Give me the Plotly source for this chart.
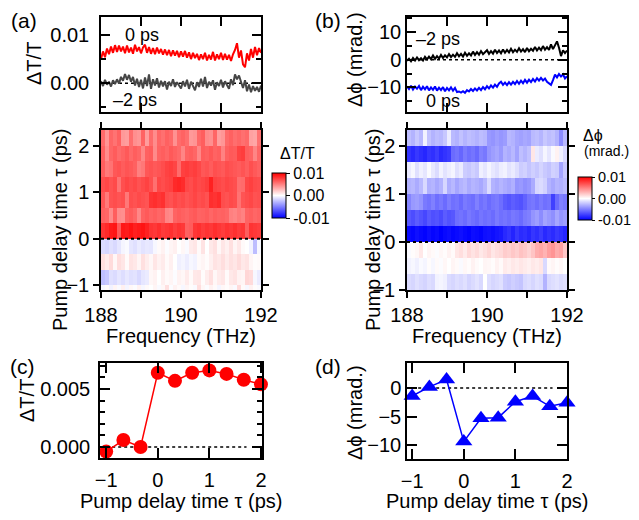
import numpy as np
import plotly.graph_objects as go

W, H = 639, 520
# the page body keeps an 8 px margin all round, so the figure sits 8 px in and is 16 px smaller
OFF = 8
FW, FH = W - 2 * OFF, H - 2 * OFF
FONT = "Liberation Sans, Arial, sans-serif"

# ---- top panels: spectra at fixed delay (ΔT/T in 1e-3, Δϕ in mrad)
freq_line = np.linspace(188, 192, 81)
dtt_0ps = [5.0, 6.6, 5.4, 7.2, 6.0, 7.6, 6.3, 7.9, 6.5, 7.8, 6.6, 7.6, 6.2, 7.8, 6.4, 7.4, 6.1, 8.0, 6.6, 7.5,
           6.2, 7.4, 8.0, 6.3, 7.5, 6.1, 7.3, 6.0, 7.4, 6.2, 7.1, 5.9, 7.0, 5.8, 6.9, 5.6, 6.8, 5.7, 6.7, 5.4,
           6.6, 5.5, 6.7, 5.3, 6.4, 5.0, 6.3, 5.2, 6.1, 4.8, 6.0, 5.0, 6.3, 4.7, 5.9, 4.9, 6.5, 4.7, 6.0, 5.0,
           6.3, 4.8, 6.1, 4.9, 5.9, 4.6, 6.0, 6.9, 8.3, 5.3, 6.8, 3.9, 3.3, 6.2, 4.7, 7.1, 5.3, 7.5, 5.8, 7.3, 6.3]
dtt_m2ps = [0.4, -0.6, 0.7, -0.3, 0.3, -0.7, 0.6, -0.2, 0.8, -0.1, 1.3, 0.5, 1.9, 0.7, 1.7, 0.3, 1.3, -0.5, 0.9, -0.8,
            0.7, -1.1, 1.2, -0.6, 1.8, -1.2, 0.8, -0.5, 1.0, -0.9, 0.5, -0.7, 0.4, -1.3, 0.3, -0.6, 0.8, -0.8, 0.2, -0.5,
            -1.1, 0.4, -0.7, 0.7, -1.2, 0.3, -0.6, -1.5, 0.2, -0.8, 0.9, -0.7, 1.3, -1.0, 0.3, -0.5, 0.6, -1.4, 0.2, -0.6,
            0.7, -0.9, 0.4, -0.3, -1.2, 0.8, -0.4, 1.8, 0.8, 1.6, 0.1, -1.0, 0.6, -1.7, -0.3, -1.9, -0.6, -1.6, -0.8, -1.8, -0.5]
dphi_m2ps = [-0.4, 0.3, -0.6, 0.6, -0.3, 0.8, -0.2, 0.5, -0.3, 1.0, 0.1, 1.1, 0.2, 1.5, 0.3, 1.3, 0.4, 1.7, 0.6, 1.6,
             0.8, 2.0, 0.9, 1.8, 1.0, 2.3, 1.2, 2.1, 1.1, 2.5, 1.4, 2.3, 1.5, 2.9, 1.7, 2.7, 1.8, 3.1, 2.0, 2.8,
             3.4, 2.1, 3.1, 2.2, 3.6, 2.4, 3.3, 2.3, 3.7, 2.5, 3.5, 2.6, 3.9, 2.7, 3.6, 2.8, 4.1, 2.9, 3.8, 2.7,
             4.2, 3.0, 3.9, 3.2, 4.6, 3.3, 4.3, 3.4, 4.9, 3.6, 4.5, 3.5, 5.5, 3.8, 5.3, 6.6, 4.3, 1.3, 3.4, 2.4, 3.3]
dphi_0ps = [-9.6, -10.6, -9.4, -10.8, -9.7, -10.5, -9.5, -11.0, -9.8, -10.7, -9.6, -11.1, -10.0, -10.9, -9.7, -11.2,
            -10.1, -11.0, -9.9, -11.4, -10.2, -11.1, -10.0, -11.2, -10.2, -11.7, -11.5, -11.9, -11.4, -12.0, -11.0,
            -11.5, -10.6, -11.3, -10.4, -11.1, -10.2, -11.0, -9.9, -10.7, -9.6, -10.4, -9.3, -10.1, -9.0, -9.8, -8.6,
            -8.0, -9.1, -8.3, -9.2, -8.1, -9.0, -8.0, -8.8, -7.7, -8.7, -7.6, -8.5, -7.3, -8.3, -7.2, -8.1, -7.0,
            -7.9, -6.7, -7.6, -6.6, -7.5, -6.8, -8.0, -8.6, -9.1, -7.4, -5.4, -6.4, -5.2, -6.1, -5.3, -6.8, -6.0]

# ---- maps (rows from lowest delay upward, values in 1e-4)
freq_edges = np.linspace(188, 192, 41)
tau_edges_a = [-4/3, -1, -2/3, -1/3, 0, 1/3, 2/3, 1, 4/3, 5/3, 2, 7/3]
tau_edges_b = [-1, -2/3, -1/3, 0, 1/3, 2/3, 1, 4/3, 5/3, 2, 7/3]
dtt_map = [
    [-3, 2, -5, 4, -2, 6, -4, 3, -1, 5, -3, 2, 0, 4, -2, 3, 12, -1, 5, 2, -3, 4, 1, -2, 13, 3, -1, 5, 2, -4, 3, 1, 4, -2, 14, 2, -3, 5, 1, -2],
    [-25, -22, -12, -14, -10, -13, -9, -12, -11, -15, -10, -8, 3, 5, 0, 6, 2, 4, -1, 5, 3, 8, 2, 9, 10, 1, 7, 12, 3, 8, 10, 2, 9, 11, 5, 4, 16, 14, -3, -8],
    [12, 8, 14, 3, 13, 10, 2, 11, 9, 4, 12, 7, 3, 10, 5, 8, 2, 6, 0, -6, -4, -7, -3, -5, 2, 4, 1, 6, 11, 9, 13, 8, 12, 10, 14, 9, 11, 4, 1, 2],
    [-14, -16, -12, -15, -10, -4, -2, -10, -12, -8, -11, -9, -10, -3, 2, 5, -1, 4, 6, 0, 3, -2, 8, 10, 2, 11, 0, 9, 12, 3, 10, 6, 12, 4, 9, 2, 0, -5, -26, -3],
    [80, 84, 90, 92, 66, 91, 89, 93, 88, 90, 92, 87, 80, 78, 82, 77, 79, 81, 76, 80, 78, 62, 64, 79, 81, 77, 80, 78, 82, 79, 76, 80, 78, 81, 77, 79, 63, 80, 78, 76],
    [62, 60, 46, 63, 45, 44, 61, 64, 60, 47, 62, 65, 61, 63, 60, 62, 48, 46, 61, 64, 62, 60, 63, 65, 61, 62, 64, 60, 63, 61, 62, 60, 50, 48, 52, 49, 61, 63, 60, 62],
    [66, 52, 68, 70, 67, 69, 53, 70, 68, 71, 69, 67, 80, 82, 79, 81, 70, 68, 72, 69, 71, 67, 70, 73, 69, 71, 68, 82, 80, 83, 70, 68, 71, 69, 55, 67, 70, 72, 68, 69],
    [70, 72, 68, 71, 55, 69, 73, 70, 72, 68, 71, 74, 69, 56, 72, 70, 73, 75, 84, 86, 83, 72, 70, 74, 71, 73, 76, 87, 74, 72, 70, 73, 71, 69, 57, 58, 72, 75, 71, 70],
    [63, 52, 55, 66, 68, 64, 67, 65, 62, 50, 53, 66, 68, 65, 67, 70, 74, 76, 73, 58, 75, 77, 74, 76, 72, 66, 68, 64, 69, 67, 65, 70, 68, 66, 64, 67, 63, 69, 65, 62],
    [62, 45, 60, 64, 58, 61, 65, 59, 63, 60, 47, 62, 64, 46, 61, 63, 60, 65, 62, 59, 48, 61, 63, 60, 47, 64, 62, 66, 61, 63, 49, 62, 65, 64, 74, 76, 63, 61, 48, 60],
    [58, 42, 60, 55, 62, 40, 38, 57, 44, 41, 61, 39, 58, 45, 60, 56, 62, 59, 43, 58, 61, 57, 40, 42, 59, 63, 46, 44, 60, 38, 41, 58, 62, 57, 60, 56, 59, 37, 35, 55],
]
dphi_map = [
    [-14, -16, -12, -15, -17, -13, -15, -5, -4, -6, -14, -16, -13, -15, -12, -17, -14, -11, -15, 0, -13, -16, -14, -12, -20, -22, -19, -21, -23, -15, -13, -16, -12, -14, -30, -15, -13, -11, -14, -12],
    [-5, -3, -6, -2, -4, 1, -3, 2, -1, 3, 0, 4, 2, -2, 3, 1, 5, 2, 0, 4, 3, 1, 5, 2, 8, 6, 9, 7, 10, 8, 6, 9, 7, 10, -15, 2, 4, 1, 3, 0],
    [-2, 1, 3, 9, 0, 4, 2, -1, 3, 1, 5, 2, 10, 13, 8, 15, 11, 14, 9, 12, 16, 10, 13, 15, 20, 18, 22, 19, 24, 21, 17, 23, 32, 35, 30, 38, 42, 33, 36, 22],
    [-96, -98, -94, -97, -99, -95, -98, -96, -100, -97, -95, -98, -96, -94, -97, -99, -95, -96, -98, -94, -93, -95, -92, -90, -84, -80, -86, -78, -83, -81, -85, -79, -82, -77, -84, -80, -83, -78, -81, -85],
    [-66, -70, -64, -68, -72, -65, -69, -67, -71, -64, -68, -66, -57, -55, -58, -53, -56, -59, -54, -57, -55, -58, -52, -56, -54, -57, -53, -55, -58, -52, -50, -42, -38, -45, -36, -40, -44, -35, -41, -38],
    [-48, -40, -38, -42, -52, -55, -50, -57, -53, -58, -51, -56, -54, -59, -52, -55, -57, -50, -56, -53, -58, -54, -52, -57, -64, -67, -63, -66, -68, -62, -55, -53, -57, -52, -56, -54, -75, -58, -50, -53],
    [-30, -28, -33, -27, -15, -31, -29, -34, -30, -16, -32, -28, -35, -30, -27, -33, -29, -31, -34, -28, -14, -30, -33, -29, -32, -35, -31, -42, -40, -44, -41, -33, -16, -14, -18, -30, -34, -29, -31, -27],
    [-8, -3, -12, -6, -10, -2, -9, -14, -5, -11, -7, -4, -12, -8, -20, -22, -18, -21, -6, -10, -4, -9, -12, -7, -5, -11, -8, -13, -20, -18, -23, -19, -22, -17, -21, -24, -18, -20, -36, -22],
    [-80, -84, -78, -82, -85, -79, -81, -76, -83, -80, -77, -58, -55, -60, -52, -57, -54, -59, -50, -53, -42, -38, -35, -40, -30, -33, -28, -36, -25, -29, -24, 10, -8, -12, -4, -10, -2, 5, -6, -15],
    [-25, -30, -22, -28, -5, -24, -30, -26, -28, -22, -8, -27, -30, -24, -29, -25, -27, -30, -26, -28, -40, -42, -38, -41, -39, -28, -30, -35, -37, -34, -36, -27, -25, -29, -22, -26, -24, -30, -45, -28],
]

# ---- bottom panels: frequency-averaged vs delay
tau = [-1, -2/3, -1/3, 0, 1/3, 2/3, 1, 4/3, 5/3, 2]
dtt_tau = [-0.0004, 0.0006, 0.0000, 0.0064, 0.0057, 0.0064, 0.0066, 0.0063, 0.0058, 0.0054]
dphi_tau = [-1.4, 0.2, 1.5, -9.4, -5.3, -5.2, -2.4, -1.4, -3.2, -2.6]

bwr = [[0, "rgb(0,0,255)"], [0.5, "rgb(255,255,255)"], [1, "rgb(255,0,0)"]]


# screen pixel -> paper fraction
def px(x):
    return (x - OFF) / FW


def py(y):
    return 1 - (y - OFF) / FH


def dom_x(left, right):
    return [px(left), px(right)]


def dom_y(top, bottom):
    return [py(bottom), py(top)]


def cbar(x, yc, length, fsize, tlen):
    return dict(x=px(x), xanchor="left", y=py(yc), yanchor="middle",
                len=length, lenmode="pixels", thickness=14, thicknessmode="pixels",
                outlinewidth=1, outlinecolor="black", xpad=0, ypad=0,
                tickvals=[-0.01, 0, 0.01], ticktext=["-0.01", "0.00", "0.01"],
                ticks="outside", ticklen=tlen, tickcolor="black",
                tickfont=dict(size=fsize, color="black"))


fig = go.Figure()

# (a) top
fig.add_trace(go.Scatter(x=freq_line, y=np.array(dtt_0ps) * 1e-3, mode="lines",
                         line=dict(color="rgb(255,0,0)", width=2), xaxis="x", yaxis="y"))
fig.add_trace(go.Scatter(x=freq_line, y=np.array(dtt_m2ps) * 1e-3, mode="lines",
                         line=dict(color="rgb(70,70,70)", width=2), xaxis="x", yaxis="y"))
# (a) map
fig.add_trace(go.Heatmap(x=freq_edges, y=tau_edges_a, z=np.array(dtt_map) * 1e-4,
                         colorscale=bwr, zmin=-0.01, zmax=0.01, xaxis="x2", yaxis="y2",
                         colorbar=cbar(272, 195.5, 45, 16, 4)))
# (b) top
fig.add_trace(go.Scatter(x=freq_line, y=dphi_m2ps, mode="lines",
                         line=dict(color="black", width=2), xaxis="x3", yaxis="y3"))
fig.add_trace(go.Scatter(x=freq_line, y=dphi_0ps, mode="lines",
                         line=dict(color="rgb(0,0,255)", width=2), xaxis="x3", yaxis="y3"))
# (b) map
fig.add_trace(go.Heatmap(x=freq_edges, y=tau_edges_b, z=np.array(dphi_map) * 1e-4,
                         colorscale=bwr, zmin=-0.01, zmax=0.01, xaxis="x4", yaxis="y4",
                         colorbar=cbar(578, 198.5, 43, 14.5, 3)))
# (c)
fig.add_trace(go.Scatter(x=tau, y=dtt_tau, mode="lines+markers", cliponaxis=False,
                         line=dict(color="rgb(255,0,0)", width=1.5),
                         marker=dict(symbol="circle", size=14, color="rgb(255,0,0)"),
                         xaxis="x5", yaxis="y5"))
# (d)
fig.add_trace(go.Scatter(x=tau, y=dphi_tau, mode="lines+markers", cliponaxis=False,
                         line=dict(color="rgb(0,0,255)", width=1.5),
                         marker=dict(symbol="triangle-up", size=15, color="rgb(0,0,255)"),
                         xaxis="x6", yaxis="y6"))

base = dict(showline=True, linecolor="black", linewidth=1.5, mirror="ticks", showgrid=False,
            zeroline=False, tickcolor="black", tickwidth=1.5, tickfont=dict(size=20, color="black"))

f_ticks = dict(tickvals=[188, 189, 190, 191, 192], ticktext=["188", "", "190", "", "192"])

fig.update_layout(
    width=FW, height=FH, margin=dict(l=0, r=0, t=0, b=0, autoexpand=False),
    paper_bgcolor="white", plot_bgcolor="white", showlegend=False,
    font=dict(family=FONT, size=20, color="black"),
    xaxis=dict(base, domain=dom_x(101, 261), range=[188, 192], ticks="inside", ticklen=9,
               showticklabels=False, anchor="y", **f_ticks),
    yaxis=dict(base, domain=dom_y(17, 112), range=[-0.006, 0.01375], ticks="inside", ticklen=9,
               tickvals=[0, 0.01], ticktext=["0.00", "0.01"], anchor="x", ticklabelstandoff=6,
               minor=dict(tickvals=[-0.005, 0.005], ticks="inside", ticklen=5, tickcolor="black")),
    xaxis2=dict(base, domain=dom_x(101, 261), range=[188, 192], ticks="outside", ticklen=6,
                anchor="y2", **f_ticks),
    yaxis2=dict(base, domain=dom_y(130, 290), range=[-1.1, 7/3], ticks="outside", ticklen=6,
                tickvals=[-1, 0, 1, 2], anchor="x2"),
    xaxis3=dict(base, domain=dom_x(407, 567), range=[188, 192], ticks="inside", ticklen=9,
                showticklabels=False, anchor="y3", **f_ticks),
    yaxis3=dict(base, domain=dom_y(17, 112), range=[-18.9, 15.4], ticks="inside", ticklen=9,
                tickvals=[-10, 0, 10], anchor="x3",
                minor=dict(tickvals=[-15, -5, 5, 15], ticks="inside", ticklen=5, tickcolor="black")),
    xaxis4=dict(base, domain=dom_x(407, 567), range=[188, 192], ticks="outside", ticklen=6,
                anchor="y4", **f_ticks),
    yaxis4=dict(base, domain=dom_y(130, 290), range=[-1, 7/3], ticks="outside", ticklen=6,
                tickvals=[-1, 0, 1, 2], anchor="x4"),
    xaxis5=dict(base, domain=dom_x(100, 262), range=[-1.12, 2.02], ticks="inside", ticklen=10,
                tickvals=[-1, 0, 1, 2], anchor="y5", ticklabelstandoff=3),
    yaxis5=dict(base, domain=dom_y(363, 458), range=[-0.00095, 0.00724], ticks="inside", ticklen=10,
                tickvals=[0, 0.005], ticktext=["0.000", "0.005"], anchor="x5", ticklabelstandoff=4,
                minor=dict(tickvals=[0.001, 0.002, 0.003, 0.004, 0.006, 0.007], ticks="inside",
                           ticklen=5, tickcolor="black")),
    xaxis6=dict(base, domain=dom_x(407, 567), range=[-1.1, 2.0], ticks="inside", ticklen=10,
                tickvals=[-1, 0, 1, 2], anchor="y6", ticklabelstandoff=3),
    yaxis6=dict(base, domain=dom_y(363, 459), range=[-12.46, 4.4], ticks="inside", ticklen=10,
                tickvals=[-10, -5, 0], anchor="x6"),
)

dotted = dict(color="black", width=1.5, dash="dot")
fig.add_shape(type="line", xref="x domain", yref="y", x0=0, x1=1, y0=0, y1=0, line=dotted, layer="below")
fig.add_shape(type="line", xref="x3 domain", yref="y3", x0=0, x1=1, y0=0, y1=0, line=dotted, layer="below")
fig.add_shape(type="line", xref="x2 domain", yref="y2", x0=0, x1=1, y0=0, y1=0,
              line=dict(color="black", width=2, dash="dot"))
fig.add_shape(type="line", xref="x4 domain", yref="y4", x0=0, x1=1, y0=0, y1=0,
              line=dict(color="black", width=2, dash="dot"))
fig.add_shape(type="line", xref="x5", yref="y5", x0=-1, x1=1.72, y0=0, y1=0, line=dotted, layer="below")
fig.add_shape(type="line", xref="x6", yref="y6", x0=-1, x1=1.72, y0=0, y1=0, line=dotted, layer="below")


def label(text, x, y, size=20, angle=0, xanchor="center"):
    fig.add_annotation(text=text, x=px(x), y=py(y), xref="paper", yref="paper",
                       showarrow=False, textangle=angle, xanchor=xanchor, yanchor="middle",
                       font=dict(size=size, color="black"), align="left")


label("(a)", 24, 20, 21)
label("(b)", 328, 20, 21)
label("(c)", 22, 366, 21)
label("(d)", 328, 366, 21)

label("ΔT/T", 34, 64, angle=-90)
label("Δϕ (mrad.)", 355, 60, angle=-90)
label("Pump delay time τ (ps)", 60, 230, angle=-90)
label("Pump delay time τ (ps)", 373, 230, angle=-90)
label("Frequency (THz)", 181, 336)
label("Frequency (THz)", 487, 336)
label("ΔT/T", 27, 401, angle=-90)
label("Δϕ (mrad.)", 355, 413, angle=-90)
label("Pump delay time τ (ps)", 181, 501)
label("Pump delay time τ (ps)", 487, 501)

label("0 ps", 142, 35, 18)
label("–2 ps", 135, 100, 18)
label("–2 ps", 438, 39, 18)
label("0 ps", 443, 101, 18)

label("ΔT/T", 297, 153, 16)
label("Δϕ", 581, 135, 16, xanchor="left")
label("(mrad.)", 582, 151, 14, xanchor="left")

fig.write_html("out.html")
